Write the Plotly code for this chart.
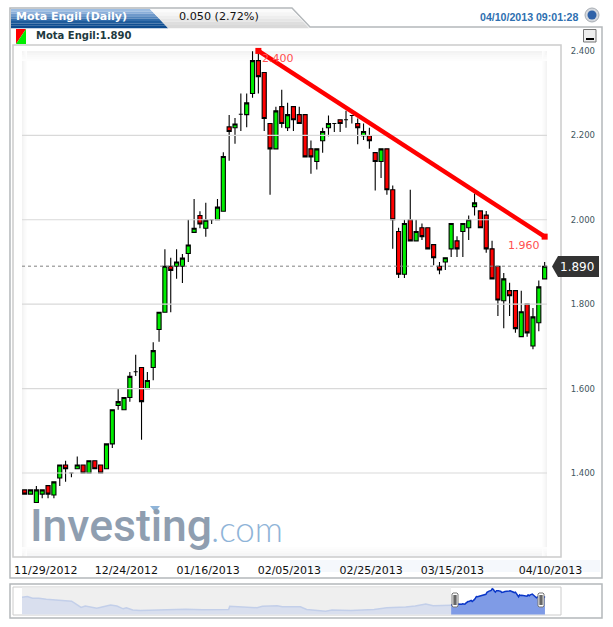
import plotly.graph_objects as go

# ---------- data ----------
sessions = list(range(90))
opens = [1.36,1.35,1.33,1.35,1.37,1.348,1.388,1.419,1.40,1.41,1.419,1.40,1.429,1.419,1.41,1.469,1.56,1.55,1.579,1.64,1.65,1.60,1.65,1.74,1.781,1.89,1.89,1.89,1.92,1.97,2.01,1.98,2.0,2.0,2.02,2.22,2.218,2.25,2.249,2.299,2.377,2.349,2.228,2.168,2.268,2.218,2.268,2.249,2.249,2.168,2.138,2.187,2.218,2.228,2.237,2.237,2.247,2.228,2.199,2.199,2.159,2.138,2.168,2.071,1.972,1.871,2.0,1.95,1.981,1.981,1.941,1.89,1.90,1.931,1.95,1.972,1.981,2.031,2.021,2.011,1.931,1.89,1.808,1.832,1.832,1.723,1.80,1.701,1.756,1.86]
highs = [1.36,1.36,1.369,1.36,1.37,1.379,1.419,1.429,1.40,1.439,1.419,1.429,1.429,1.419,1.469,1.55,1.60,1.579,1.639,1.68,1.65,1.639,1.71,1.781,1.93,1.91,1.93,1.919,2.0,2.049,2.02,2.04,2.0,2.049,2.16,2.248,2.241,2.299,2.299,2.399,2.399,2.349,2.228,2.268,2.308,2.277,2.268,2.268,2.249,2.188,2.168,2.218,2.247,2.228,2.237,2.258,2.247,2.24,2.228,2.218,2.159,2.168,2.168,2.081,1.981,2.0,2.071,2.0,1.991,1.981,1.941,1.90,1.91,1.991,1.961,1.991,2.01,2.062,2.021,2.021,1.95,1.89,1.874,1.851,1.832,1.832,1.80,1.791,1.856,1.90]
lows = [1.35,1.35,1.33,1.34,1.34,1.34,1.369,1.379,1.39,1.41,1.40,1.40,1.41,1.40,1.41,1.459,1.55,1.55,1.569,1.63,1.479,1.60,1.62,1.711,1.781,1.781,1.86,1.85,1.90,1.97,1.98,1.96,1.99,2.0,2.02,2.14,2.18,2.21,2.219,2.289,2.299,2.21,2.059,2.168,2.218,2.21,2.21,2.228,2.149,2.109,2.119,2.159,2.198,2.208,2.208,2.218,2.228,2.179,2.189,2.168,2.069,2.099,2.059,1.931,1.862,1.862,1.95,1.95,1.952,1.931,1.892,1.871,1.881,1.912,1.912,1.912,1.952,2.01,1.981,1.922,1.86,1.772,1.743,1.772,1.732,1.723,1.723,1.693,1.736,1.86]
closes = [1.35,1.36,1.36,1.36,1.35,1.379,1.419,1.41,1.40,1.419,1.40,1.429,1.41,1.40,1.469,1.55,1.569,1.579,1.629,1.64,1.569,1.619,1.69,1.781,1.89,1.88,1.90,1.909,1.94,1.98,1.99,1.999,2.0,2.03,2.15,2.209,2.227,2.25,2.277,2.377,2.339,2.24,2.168,2.258,2.228,2.249,2.237,2.228,2.149,2.149,2.168,2.209,2.228,2.228,2.228,2.237,2.247,2.218,2.209,2.187,2.138,2.168,2.071,2.0,1.871,1.991,1.95,1.972,1.96,1.931,1.91,1.881,1.91,1.991,1.931,1.991,2.0,2.04,1.981,1.931,1.86,1.81,1.86,1.82,1.742,1.782,1.732,1.77,1.841,1.89]

y_ticks = [1.4, 1.6, 1.8, 2.0, 2.2, 2.4]
y_tick_labels = ["1.400", "1.600", "1.800", "2.000", "2.200", "2.400"]
grid_levels = [1.4, 1.6, 1.8, 2.0, 2.2]
date_labels = ["11/29/2012", "12/24/2012", "01/16/2013", "02/05/2013", "02/25/2013", "03/15/2013", "04/10/2013"]
date_positions = [3.6, 17.4, 31.4, 45.3, 59.3, 73.2, 90.0]

trend_sessions = [40, 89]
trend_values = [2.40, 1.96]
last_price = 1.89

nav_hist_sessions = [0,5,10,16,23,31,38,47,51,56,60,66,71,77,84,90,96,99,105,112,127,142,155,171,186,196,197,209,223,228,238,242,247,264,270,279,288,294,312,334,346,364,373,383,390,407]
nav_hist_values = [1.84,1.89,1.78,1.78,1.72,1.67,1.63,1.59,1.42,1.20,1.29,1.20,1.14,1.24,1.35,1.29,1.11,1.18,1.03,1.01,1.03,1.03,1.09,1.05,1.05,1.07,1.27,1.24,1.18,1.27,1.27,1.31,1.24,1.24,1.07,1.03,0.96,1.03,1.01,1.07,1.18,1.22,1.29,1.42,1.31,1.33]
nav_offset = 407
nav_total = 497

W, H = 613, 627
def fx(x): return x / W
def fy(y): return 1 - y / H
def P(*pts, close=True):
    s = "M" + " L".join(f"{fx(x):.5f},{fy(y):.5f}" for x, y in pts)
    return s + (" Z" if close else "")
def rect(x0, y0, x1, y1, fill=None, line=None, lw=1, layer="below"):
    return dict(type="rect", xref="paper", yref="paper", x0=fx(x0), x1=fx(x1), y0=fy(y0), y1=fy(y1),
                fillcolor=fill or "rgba(0,0,0,0)", line=dict(color=line or "rgba(0,0,0,0)", width=lw if line else 0), layer=layer)
def path(d, fill=None, line=None, lw=1, layer="below"):
    return dict(type="path", xref="paper", yref="paper", path=d, fillcolor=fill or "rgba(0,0,0,0)",
                line=dict(color=line or "rgba(0,0,0,0)", width=lw if line else 0), layer=layer)

FRAME = "#b4b8bb"
INNER = "#cccccc"
shapes = []

# gradient edges of the plot well
for i, c in enumerate(["#f3f3f3", "#f6f6f6", "#f9f9f9", "#fbfbfb", "#fdfdfd"]):
    shapes.append(rect(22, 51 + i * 2, 547, 53 + i * 2, fill=c))
    shapes.append(rect(22, 555 - i * 2, 547, 557 - i * 2, fill=c.replace("f3f3f3", "f5f6f8")))
    shapes.append(rect(22 + i, 51, 23 + i, 557, fill=c))
    shapes.append(rect(546 - i, 51, 547 - i, 557, fill=c))

# outer frame with tabs
shapes.append(path(P((10, 578), (10, 8), (292, 8), (310, 27), (602, 27), (602, 578)), line=FRAME, lw=1.5))
shapes.append(rect(13, 45, 561, 557, line=INNER, lw=1.5))
shapes.append(rect(290, 560, 600, 572, fill="#f5f8fc"))

# header tabs
blues = ["#9dbde2", "#8aaed9", "#6f99cb", "#5284bc", "#336dab", "#1f5c9c", "#104f92", "#0d4a8d"]
for i, c in enumerate(blues):
    y0 = 9 + i * 2.4
    y1 = y0 + 2.4
    shapes.append(path(P((11, y0), (150 + (y0 - 9) * 0.95, y0), (150 + (y1 - 9) * 0.95, y1), (11, y1)), fill=c))
greys = ["#fbfbfb", "#f5f5f5", "#eeeeee", "#e6e6e6", "#dedede", "#d9d9d9"]
for i, c in enumerate(greys):
    y0 = 9 + i * 3.2
    y1 = y0 + 3.2
    shapes.append(path(P((150 + (y0 - 9) * 0.95, y0), (291 + (y0 - 9) * 0.95, y0), (291 + (y1 - 9) * 0.95, y1), (150 + (y1 - 9) * 0.95, y1)), fill=c))

# legend icon
shapes.append(path(P((16, 29), (26, 29), (16, 44)), fill="#ff0000"))
shapes.append(path(P((26, 29), (26, 44), (16, 44)), fill="#00ee00"))

# globe
shapes.append(dict(type="circle", xref="paper", yref="paper", x0=fx(585), x1=fx(599), y0=fy(8), y1=fy(22), fillcolor="#d5d9de", line=dict(color="#a8adb3", width=1), layer="below"))
shapes.append(dict(type="circle", xref="paper", yref="paper", x0=fx(587.5), x1=fx(596.5), y0=fy(10.5), y1=fy(19.5), fillcolor="#2f62a8", line=dict(width=0), layer="below"))
# minimise button
shapes.append(rect(583.5, 29.5, 596, 42, fill="#eeeeee", line="#777777", lw=1))
shapes.append(rect(586, 38, 594, 40, fill="#000000"))

# price tag
shapes.append(path(P((552, 266.5), (558, 256), (599, 256), (599, 277), (558, 277)), fill="#333333", layer="above"))

# logo triangle
shapes.append(path(P((150, 506), (160, 506), (155, 512)), fill="#8fb4d8"))

# navigator
shapes.append(rect(10, 584, 602, 618, line=FRAME, lw=1.5))
shapes.append(rect(13, 587, 561, 615, line=INNER, lw=1))
shapes.append(rect(22, 587.5, 451, 614.5, fill="#efefef"))
for hx in (455, 541):
    shapes.append(path(P((hx - 3, 594), (hx - 2, 593), (hx + 2, 593), (hx + 3, 594), (hx + 3, 606), (hx + 2, 607), (hx - 2, 607), (hx - 3, 606)),
                       fill="#ffffff", line="#777777", lw=1, layer="above"))
    shapes.append(rect(hx - 1.4, 595, hx - 0.4, 605, fill="#000000", layer="above"))
    shapes.append(rect(hx + 0.4, 595, hx + 1.4, 605, fill="#000000", layer="above"))

# ---------- traces ----------
fig = go.Figure()
grid_x, grid_y = [], []
for g in grid_levels:
    grid_x += [-0.46, 89.4, None]
    grid_y += [g, g, None]
fig.add_trace(go.Scatter(x=grid_x, y=grid_y, mode="lines", line=dict(color="#d9d9d9", width=1.2), hoverinfo="skip", showlegend=False))
fig.add_trace(go.Scatter(x=[-0.46, 89.4], y=[last_price, last_price], mode="lines", line=dict(color="#808080", width=1, dash="dot"), hoverinfo="skip", showlegend=False))
fig.add_trace(go.Candlestick(x=sessions, open=opens, high=highs, low=lows, close=closes, whiskerwidth=0,
                             increasing=dict(fillcolor="#00ee00", line=dict(color="#000000", width=1.1)),
                             decreasing=dict(fillcolor="#ff0000", line=dict(color="#000000", width=1.1)),
                             showlegend=False))
fig.add_trace(go.Scatter(x=trend_sessions, y=trend_values, mode="lines+markers", line=dict(color="#ff0000", width=4.5),
                         marker=dict(symbol="square", size=6, color="#ff0000"), showlegend=False))

# navigator series
fig.add_trace(go.Scatter(x=nav_hist_sessions, y=nav_hist_values, xaxis="x2", yaxis="y2", mode="lines", fill="tozeroy",
                         fillcolor="#d9dfee", line=dict(color="#c3cfe9", width=1.5), showlegend=False))
fig.add_trace(go.Scatter(x=[nav_offset + s for s in sessions], y=closes, xaxis="x2", yaxis="y2", mode="lines", fill="tozeroy",
                         fillcolor="#7f9be6", line=dict(color="#0a36c8", width=1.5), showlegend=False))

# ---------- annotations ----------
def note(x, y, text, size, color, family="DejaVu Sans", anchor="left", weight=None):
    f = dict(size=size, color=color, family=family)
    if weight:
        f["weight"] = weight
    return dict(xref="paper", yref="paper", x=fx(x), y=fy(y), text=text, showarrow=False, xanchor=anchor, yanchor="middle", font=f, borderpad=0)

annotations = [
    note(15, 17, "Mota Engil (Daily)", 11, "#ffffff", weight="bold"),
    note(178, 17, "0.050 (2.72%)", 11.2, "#111111"),
    note(479, 17, "04/10/2013 09:01:28", 10.6, "#2e6fb0", family="Liberation Sans", weight="bold"),
    note(35, 36, "Mota Engil:1.890", 10, "#1e3a40", weight="bold"),
    note(577, 266.5, "1.890", 12, "#ffffff", anchor="center"),
    note(29, 526, "Investing", 44.5, "#8f9eb0", family="Roboto", weight=500),
    note(210, 528, ".com", 35, "#8fb4d8", family="Lato", weight=300),
    dict(x=trend_sessions[0], y=trend_values[0], xref="x", yref="y", text="2.400", showarrow=False, xanchor="left", yanchor="middle",
         xshift=2, yshift=-8, font=dict(size=11, color="#ff5050", family="DejaVu Sans")),
    dict(x=trend_sessions[1], y=trend_values[1], xref="x", yref="y", text="1.960", showarrow=False, xanchor="right", yanchor="middle",
         xshift=-3, yshift=-9, font=dict(size=11, color="#ff5050", family="DejaVu Sans")),
]

fig.update_layout(
    width=W, height=H, autosize=False,
    margin=dict(l=0, r=0, t=0, b=0, autoexpand=False),
    paper_bgcolor="#ffffff", plot_bgcolor="rgba(0,0,0,0)",
    showlegend=False, boxgap=0.3, boxgroupgap=0,
    shapes=shapes, annotations=annotations,
    xaxis=dict(domain=[fx(13), fx(561)], range=[-2.0, 91.8], showgrid=False, zeroline=False, showline=False,
               rangeslider=dict(visible=False), tickmode="array", tickvals=date_positions, ticktext=date_labels,
               ticks="outside", ticklen=3, tickcolor="rgba(0,0,0,0)", tickfont=dict(family="DejaVu Sans", size=11, color="#111111"), tickangle=0),
    yaxis=dict(domain=[fy(557), fy(45)], range=[1.201, 2.414], side="right", showgrid=False, zeroline=False, showline=False,
               tickmode="array", tickvals=y_ticks, ticktext=y_tick_labels, ticks="outside", ticklen=7, tickcolor="rgba(0,0,0,0)",
               tickfont=dict(family="DejaVu Sans", size=8.5, color="#3f5660")),
    xaxis2=dict(domain=[fx(22), fx(546)], range=[0, nav_total], visible=False, anchor="y2"),
    yaxis2=dict(domain=[fy(614.5), fy(587)], range=[0.75, 2.49], visible=False, anchor="x2"),
)

fig.write_html("out.html", config=dict(displayModeBar=False), post_script="document.body.style.margin='0';document.body.style.overflow='hidden';")
